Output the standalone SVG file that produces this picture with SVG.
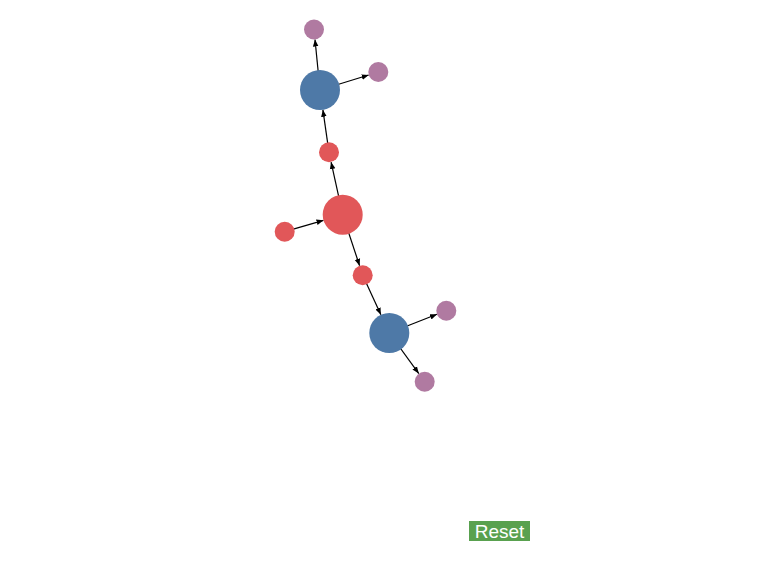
<svg xmlns="http://www.w3.org/2000/svg" width="784" height="561" viewBox="0 0 784 561">
<style>
.link{stroke:#000;stroke-width:1.2;fill:none;marker-end:url(#arrow)}
.red{fill:#e15759}
.blue{fill:#4e79a7}
.purple{fill:#b07aa1}
.btn{fill:#59a14f}
.btntext{fill:#fff;font-family:"Liberation Sans",Arial,sans-serif;font-size:19px}
</style>
<defs>
<marker id="arrow" viewBox="0 -4 8 8" refX="8" refY="0" markerWidth="7" markerHeight="7" markerUnits="userSpaceOnUse" orient="auto">
<path d="M0,-3.2L8,0L0,3.2Z" fill="#000"/>
</marker>
</defs>
<rect width="784" height="561" fill="#fff"/>
<g id="links">
<line class="link" x1="342.7" y1="214.7" x2="331.1" y2="162.1"/>
<line class="link" x1="329" y1="152.3" x2="322.9" y2="109.8"/>
<line class="link" x1="320" y1="90" x2="315" y2="39.5"/>
<line class="link" x1="320" y1="90" x2="368.7" y2="75"/>
<line class="link" x1="284.7" y1="231.7" x2="323.5" y2="220.3"/>
<line class="link" x1="342.7" y1="214.7" x2="359.6" y2="265.8"/>
<line class="link" x1="362.7" y1="275.3" x2="380.9" y2="314.8"/>
<line class="link" x1="389.3" y1="333" x2="437" y2="314.3"/>
<line class="link" x1="389.3" y1="333" x2="418.8" y2="373.6"/>
</g>
<g id="n1"><circle class="purple" cx="314" cy="29.5" r="10"/></g>
<g id="n2"><circle class="purple" cx="378.3" cy="72" r="10"/></g>
<g id="n3"><circle class="blue" cx="320" cy="90" r="20"/></g>
<g id="n4"><circle class="red" cx="329" cy="152.3" r="10"/></g>
<g id="n5"><circle class="red" cx="342.7" cy="214.7" r="20"/></g>
<g id="n6"><circle class="red" cx="284.7" cy="231.7" r="10"/></g>
<g id="n7"><circle class="red" cx="362.7" cy="275.3" r="10"/></g>
<g id="n8"><circle class="blue" cx="389.3" cy="333" r="20"/></g>
<g id="n9"><circle class="purple" cx="446.3" cy="310.7" r="10"/></g>
<g id="n10"><circle class="purple" cx="424.7" cy="381.7" r="10"/></g>
<g id="reset">
<rect class="btn" x="469" y="521" width="61" height="20"/>
<text class="btntext" x="499.5" y="538" text-anchor="middle">Reset</text>
</g>
</svg>
